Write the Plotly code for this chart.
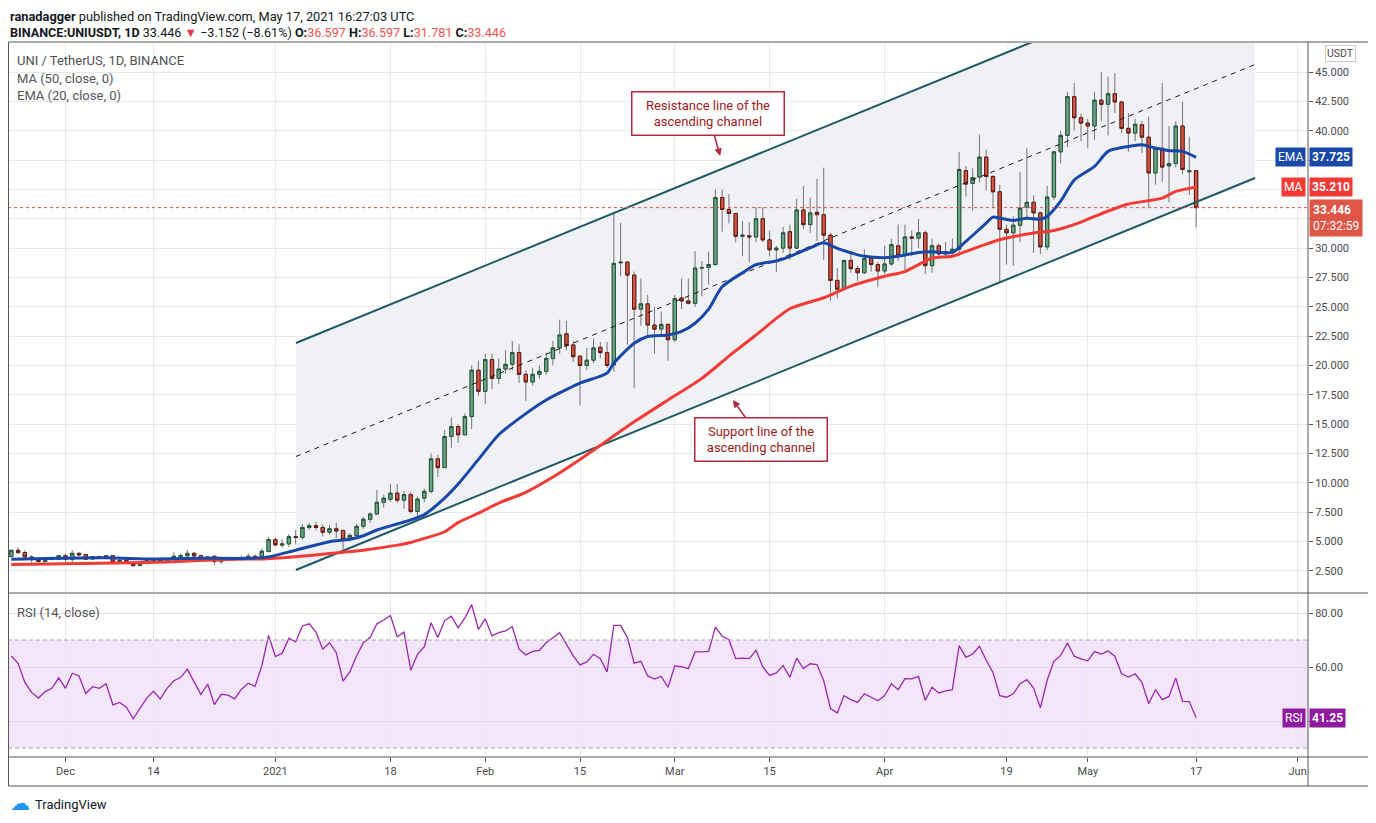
import pandas as pd
import plotly.graph_objects as go

# daily candles UNI/USDT, 2020-11-23 .. 2021-05-17
first_day = "2020-11-23"

opens = [
    3.72, 4.26, 4.06, 3.69, 3.47, 3.30, 3.47, 3.50, 3.80, 3.50,
    4.00, 3.90, 3.52, 3.72, 3.60, 3.80, 3.30, 3.41, 3.21, 2.96,
    3.15, 3.38, 3.47, 3.27, 3.55, 3.72, 3.78, 4.00, 3.80, 3.55,
    3.75, 3.30, 3.60, 3.58, 3.47, 3.63, 3.75, 3.72, 4.15, 5.17,
    4.70, 4.80, 5.42, 5.36, 6.20, 6.36, 6.20, 5.80, 6.10, 5.95,
    5.20, 5.53, 6.30, 6.90, 7.35, 8.35, 8.60, 9.13, 8.53, 9.00,
    7.56, 8.70, 9.28, 12.05, 11.30, 13.95, 14.80, 14.10, 15.65, 19.60,
    17.80, 20.50, 18.90, 19.70, 20.10, 21.10, 19.25, 18.60, 19.25, 19.50,
    20.60, 21.50, 22.70, 21.75, 20.80, 20.00, 20.45, 21.55, 21.10, 20.05,
    28.75, 28.80, 27.70, 24.80, 25.25, 23.45, 23.10, 23.50, 22.20, 25.75,
    25.50, 25.30, 28.30, 28.35, 28.60, 34.30, 33.30, 32.95, 31.00, 31.05,
    30.95, 32.50, 30.70, 29.85, 30.00, 31.40, 30.00, 33.25, 32.00, 33.05,
    32.85, 31.10, 27.25, 26.50, 28.95, 28.25, 27.90, 29.10, 28.60, 28.05,
    28.65, 30.20, 29.40, 30.95, 30.85, 31.30, 28.50, 30.20, 29.50, 29.70,
    29.90, 36.60, 35.50, 36.05, 37.75, 36.10, 34.80, 31.60, 31.30, 31.95,
    33.50, 33.90, 33.00, 30.10, 34.35, 38.20, 39.60, 42.90, 41.10, 40.65,
    40.40, 42.60, 42.25, 43.15, 42.45, 40.20, 39.80, 40.50, 39.45, 36.40,
    38.50, 37.00, 37.20, 40.40, 36.50, 36.597,
]
highs = [
    4.30, 4.49, 4.26, 3.84, 3.55, 3.58, 3.55, 3.85, 3.98, 4.26,
    4.10, 3.92, 3.80, 3.80, 3.88, 3.84, 3.45, 3.45, 3.25, 3.20,
    3.45, 3.50, 3.50, 3.60, 4.10, 4.00, 4.26, 4.10, 3.90, 3.75,
    3.80, 3.60, 3.70, 3.60, 3.80, 4.00, 3.90, 4.40, 5.40, 5.35,
    5.20, 5.65, 6.00, 6.50, 6.60, 6.70, 6.45, 6.40, 6.60, 6.00,
    5.70, 6.50, 7.10, 7.50, 9.40, 9.00, 9.90, 9.90, 9.30, 9.20,
    8.80, 9.50, 12.50, 12.40, 14.50, 15.57, 15.00, 15.90, 20.00, 20.40,
    21.00, 21.00, 20.60, 21.30, 22.10, 21.80, 19.60, 19.80, 20.00, 21.10,
    22.10, 23.90, 23.80, 22.10, 20.80, 21.50, 22.30, 22.00, 22.00, 32.90,
    32.15, 28.90, 28.00, 27.40, 26.00, 25.00, 24.60, 23.60, 26.00, 27.40,
    27.40, 29.74, 28.90, 29.70, 35.00, 35.00, 34.60, 33.00, 32.30, 32.20,
    33.50, 33.50, 31.50, 30.20, 31.80, 32.00, 34.20, 35.30, 34.30, 35.90,
    36.85, 31.30, 28.30, 29.00, 29.50, 28.50, 29.90, 29.20, 28.80, 30.20,
    30.80, 32.00, 32.00, 31.50, 32.50, 31.50, 30.80, 30.40, 30.50, 30.80,
    38.20, 37.00, 36.80, 39.66, 38.40, 36.20, 35.40, 32.00, 32.70, 36.50,
    38.50, 34.50, 33.10, 35.30, 38.20, 40.00, 43.30, 44.06, 41.45, 41.00,
    43.30, 45.00, 44.60, 44.90, 42.50, 41.50, 41.00, 40.80, 41.20, 38.60,
    44.06, 40.40, 40.80, 42.45, 39.50, 36.597,
]
lows = [
    3.65, 3.92, 3.55, 3.21, 3.20, 3.20, 3.42, 3.45, 3.27, 3.22,
    3.80, 3.45, 3.48, 3.55, 3.50, 3.25, 3.25, 3.10, 2.90, 2.90,
    3.05, 3.30, 3.20, 3.20, 3.50, 3.60, 3.70, 3.65, 3.45, 3.40,
    3.00, 3.10, 3.45, 3.40, 3.40, 3.60, 3.60, 3.60, 4.10, 4.60,
    4.50, 4.55, 4.75, 5.20, 6.00, 5.95, 5.45, 5.60, 5.30, 4.33,
    5.00, 5.20, 6.10, 6.60, 7.30, 7.90, 8.40, 8.30, 7.80, 7.40,
    6.90, 8.35, 9.10, 10.50, 11.30, 13.00, 13.40, 14.10, 14.60, 17.40,
    16.70, 18.00, 18.40, 19.30, 19.60, 18.50, 17.00, 18.30, 18.90, 19.20,
    20.00, 21.00, 21.30, 20.30, 16.60, 19.60, 20.20, 20.60, 19.80, 19.50,
    27.60, 21.76, 18.05, 23.40, 22.40, 21.00, 22.50, 20.40, 22.00, 24.80,
    25.20, 25.00, 25.90, 26.90, 28.50, 31.40, 32.10, 30.50, 29.30, 28.80,
    30.50, 30.50, 29.30, 27.95, 29.60, 29.00, 29.90, 31.60, 31.30, 30.60,
    29.00, 25.50, 25.70, 26.40, 27.90, 27.20, 27.80, 28.00, 26.70, 27.80,
    28.50, 28.90, 28.00, 29.30, 30.00, 27.80, 27.90, 29.20, 29.20, 29.40,
    29.30, 34.40, 33.20, 35.60, 34.90, 33.40, 27.07, 28.60, 28.50, 30.50,
    32.50, 29.60, 29.50, 29.80, 34.10, 37.20, 38.60, 40.00, 39.10, 38.50,
    39.20, 40.80, 39.60, 41.50, 39.80, 38.20, 39.10, 38.10, 33.50, 35.40,
    35.65, 33.90, 36.90, 36.30, 34.50, 31.781,
]
closes = [
    4.26, 4.06, 3.69, 3.47, 3.30, 3.50, 3.50, 3.80, 3.50, 4.00,
    3.86, 3.50, 3.72, 3.60, 3.80, 3.27, 3.41, 3.18, 2.95, 3.15,
    3.38, 3.45, 3.27, 3.55, 3.75, 3.80, 4.00, 3.78, 3.55, 3.69,
    3.30, 3.55, 3.50, 3.45, 3.63, 3.75, 3.67, 4.18, 5.17, 4.72,
    4.80, 5.42, 5.35, 6.20, 6.35, 6.20, 5.80, 6.10, 5.90, 5.20,
    5.53, 6.30, 6.90, 7.35, 8.35, 8.70, 9.13, 8.53, 9.00, 7.56,
    8.62, 9.28, 12.05, 11.30, 13.95, 14.80, 14.10, 15.65, 19.60, 17.80,
    20.50, 18.90, 19.70, 20.10, 21.10, 19.25, 18.60, 19.25, 19.50, 20.60,
    21.50, 22.60, 21.70, 20.75, 20.00, 20.45, 21.50, 21.10, 20.00, 28.70,
    28.80, 27.70, 24.80, 25.25, 23.45, 23.10, 23.50, 22.20, 25.70, 25.50,
    25.30, 28.30, 28.35, 28.60, 34.30, 33.30, 32.95, 31.00, 31.10, 30.95,
    32.50, 30.70, 29.85, 30.00, 31.30, 30.00, 33.25, 32.00, 33.00, 32.85,
    31.10, 27.25, 26.50, 28.95, 28.25, 27.90, 29.10, 28.60, 28.05, 28.65,
    30.30, 29.40, 30.95, 30.85, 31.30, 28.50, 30.20, 29.50, 29.70, 29.90,
    36.70, 35.45, 36.00, 37.75, 36.10, 34.80, 31.60, 31.30, 31.95, 33.40,
    33.90, 33.00, 30.10, 34.35, 38.20, 39.60, 42.90, 41.10, 40.65, 40.40,
    42.60, 42.25, 43.15, 42.45, 40.20, 39.80, 40.55, 39.45, 36.40, 38.50,
    36.90, 37.20, 40.40, 36.70, 36.597, 33.446,
]

# RSI(14) per day
rsi_vals = [
    64.1, 61.4, 54.3, 50.6, 48.5, 50.9, 52.1, 56.0, 52.1, 57.7,
    56.7, 50.2, 52.7, 52.1, 53.8, 46.0, 46.9, 45.1, 40.8, 44.5,
    48.5, 51.0, 48.2, 52.1, 54.9, 56.1, 59.2, 54.5, 49.8, 53.7,
    46.1, 49.9, 49.6, 48.2, 51.8, 54.0, 52.8, 60.4, 71.7, 63.9,
    65.1, 70.7, 69.3, 75.2, 76.0, 72.9, 66.6, 69.0, 65.3, 54.8,
    58.2, 64.1, 69.0, 70.9, 76.0, 77.4, 79.1, 71.2, 72.9, 58.8,
    64.7, 67.5, 76.4, 70.9, 77.2, 78.8, 74.5, 78.2, 83.1, 73.9,
    77.9, 71.5, 72.7, 73.4, 74.9, 66.6, 64.5, 65.8, 66.2, 69.0,
    70.9, 72.7, 68.4, 64.1, 60.8, 61.9, 64.7, 63.1, 58.2, 75.4,
    75.4, 70.9, 61.4, 62.1, 56.7, 55.5, 56.5, 52.5, 60.4, 60.1,
    59.4, 65.6, 65.6, 65.8, 74.8, 71.4, 70.1, 63.1, 63.3, 63.1,
    66.2, 60.0, 56.9, 57.8, 60.5, 56.2, 63.3, 59.4, 61.2, 60.9,
    54.9, 44.6, 43.0, 49.4, 47.9, 46.9, 50.1, 48.9, 47.5, 49.4,
    53.8, 51.6, 55.7, 55.6, 56.5, 47.7, 52.5, 50.4, 51.2, 51.6,
    67.9, 63.6, 64.8, 67.7, 62.5, 58.0, 49.4, 48.8, 50.1, 53.8,
    55.3, 52.2, 44.9, 55.1, 62.1, 64.3, 68.9, 64.0, 63.0, 62.3,
    65.7, 64.8, 65.9, 64.0, 57.5, 56.3, 57.5, 54.3, 46.4, 51.6,
    47.9, 49.1, 55.9, 47.3, 47.2, 41.25,
]

# EMA 20 / MA 50 read at sample days (day number from first_day)
ema_idx = [0, 7, 14, 21, 28, 35, 38, 42, 47, 50, 52, 54, 57, 59, 61, 64, 66, 69,
           72, 76, 79, 82, 84, 88, 89, 92, 94, 97, 99, 101, 103, 105, 108, 110,
           113, 115, 118, 120, 122, 124, 126, 129, 131, 134, 136, 139, 141, 144,
           145, 146, 148, 150, 152, 153, 155, 157, 160, 162, 165, 167, 169, 171,
           173, 175]
ema_vals = [3.50, 3.58, 3.62, 3.52, 3.58, 3.58, 3.70, 4.27, 4.99, 5.20, 5.50, 5.99,
            6.50, 6.85, 7.30, 8.70, 9.90, 12.0, 14.1, 15.9, 17.06, 17.95, 18.5,
            19.35, 20.2, 21.9, 22.47, 22.6, 22.9, 23.6, 24.8, 26.7, 27.9, 28.6,
            28.9, 29.3, 30.03, 30.45, 29.97, 29.6, 29.3, 29.18, 29.3, 29.63, 29.69,
            29.63, 30.57, 32.13, 32.64, 32.55, 32.36, 32.55, 32.47, 32.7, 34.0,
            35.8, 36.96, 38.24, 38.66, 38.8, 38.52, 38.3, 38.24, 37.725]
ma_idx = [0, 13, 23, 33, 37, 42, 47, 52, 57, 59, 61, 64, 66, 69, 72, 76, 80, 84,
          88, 92, 97, 102, 106, 110, 115, 120, 124, 129, 132, 136, 139, 141, 146,
          151, 154, 158, 160, 165, 170, 172, 175]
ma_vals = [3.05, 3.15, 3.27, 3.50, 3.52, 3.72, 3.98, 4.27, 4.70, 4.93, 5.27, 5.84,
           6.62, 7.42, 8.28, 9.2, 10.5, 12.0, 13.6, 15.2, 17.06, 18.9, 20.8, 22.6,
           24.83, 25.77, 26.76, 27.6, 28.0, 29.15, 29.3, 29.72, 30.71, 31.28, 31.5,
           32.22, 32.7, 33.75, 34.26, 34.83, 35.21]

last_close = 33.446
ema_last = 37.725
ma_last = 35.21
rsi_last = 41.25

price_ticks = [2.5, 5.0, 7.5, 10.0, 12.5, 15.0, 17.5, 20.0, 22.5, 25.0, 27.5,
               30.0, 32.5, 35.0, 37.5, 40.0, 42.5, 45.0]
hidden_ticks = [32.5, 35.0, 37.5]   # covered by the value tags on the scale
date_ticks = ["2020-12-01", "2020-12-14", "2021-01-01", "2021-01-18", "2021-02-01",
              "2021-02-15", "2021-03-01", "2021-03-15", "2021-04-01", "2021-04-19",
              "2021-05-01", "2021-05-17", "2021-06-01"]
date_labels = ["Dec", "14", "2021", "18", "Feb", "15", "Mar", "15", "Apr", "19",
               "May", "17", "Jun"]

# the drawn ascending channel (start / end anchor of each line)
chan_x = ["2021-01-04 01:00", "2021-05-25 17:00"]
chan_top = [21.92, 55.31]
chan_mid = [12.25, 45.64]
chan_bot = [2.58, 35.97]

dates = pd.date_range(first_day, periods=len(closes), freq="D")
body_hi = [max(o, c) for o, c in zip(opens, closes)]
body_lo = [min(o, c) for o, c in zip(opens, closes)]

UP, UP_EDGE = "#6ba583", "#225437"
DN, DN_EDGE = "#d75442", "#5b1a13"
WICK = "#737375"
FONT = "Roboto"
TXT = "#4a4a4a"
FRAME = "#555"


# the page puts the figure 8px in from the corner; plot area spans
# x 8..1308 and y 43..757 of the screenshot
def px(x):
    return (x - 8) / 1300


def py(y):
    return (757 - y) / 714


fig = go.Figure()

# channel lines (drawn objects sit above the candles)
fig.add_trace(go.Scatter(x=chan_x, y=chan_mid, mode="lines",
                         line=dict(color="#1b1b1b", width=1, dash="5px,5px")))
fig.add_trace(go.Scatter(x=chan_x, y=chan_top, mode="lines",
                         line=dict(color="#1e5a66", width=2)))
fig.add_trace(go.Scatter(x=chan_x, y=chan_bot, mode="lines",
                         line=dict(color="#1e5a66", width=2)))

# candles: wicks in gray, then bodies with dark borders
fig.add_trace(go.Candlestick(x=dates, open=opens, high=highs, low=lows, close=closes,
                             increasing=dict(fillcolor=UP, line=dict(color=WICK, width=1)),
                             decreasing=dict(fillcolor=DN, line=dict(color=WICK, width=1)),
                             hoverinfo="skip"))
fig.add_trace(go.Candlestick(x=dates, open=opens, high=body_hi, low=body_lo, close=closes,
                             increasing=dict(fillcolor=UP, line=dict(color=UP_EDGE, width=1)),
                             decreasing=dict(fillcolor=DN, line=dict(color=DN_EDGE, width=1)),
                             hoverinfo="skip"))

# MA / EMA
fig.add_trace(go.Scatter(x=dates[ma_idx], y=ma_vals, mode="lines",
                         line=dict(color="#f23b35", width=3, shape="spline", smoothing=0.7)))
fig.add_trace(go.Scatter(x=dates[ema_idx], y=ema_vals, mode="lines",
                         line=dict(color="#1848a8", width=3, shape="spline", smoothing=0.7)))

# RSI
fig.add_trace(go.Scatter(x=dates, y=rsi_vals, mode="lines", xaxis="x2", yaxis="y2",
                         line=dict(color="#9c27b0", width=1.3)))


def d(s):  # date inside a shape path
    return s.replace(" ", "_")


chan_path = "M%s,%s L%s,%s L%s,%s L%s,%s Z" % (
    d(chan_x[0]), chan_top[0], d(chan_x[1]), chan_top[1],
    d(chan_x[1]), chan_bot[1], d(chan_x[0]), chan_bot[0])

shapes = [
    dict(type="path", xref="x", yref="y", path=chan_path, fillcolor="#f0f1f4",
         line=dict(width=0), layer="between"),
    dict(type="rect", xref="paper", yref="y2", x0=0, x1=1, y0=30, y1=70,
         fillcolor="#f3e6fb", line=dict(width=0), layer="between"),
    dict(type="line", xref="paper", yref="y2", x0=0, x1=1, y0=70, y1=70,
         line=dict(color="#a8a8a8", width=1, dash="4px,3px")),
    dict(type="line", xref="paper", yref="y2", x0=0, x1=1, y0=30, y1=30,
         line=dict(color="#a8a8a8", width=1, dash="4px,3px")),
    dict(type="line", xref="paper", yref="y", x0=0, x1=1, y0=last_close, y1=last_close,
         line=dict(color="#e0504a", width=1, dash="dot")),
    # frame
    dict(type="rect", xref="paper", yref="paper", x0=px(8.5), x1=px(1370), y0=py(786), y1=py(42),
         line=dict(color=FRAME, width=1)),
    dict(type="line", xref="paper", yref="paper", x0=1, x1=1, y0=py(786), y1=py(42),
         line=dict(color=FRAME, width=1)),
    dict(type="line", xref="paper", yref="paper", x0=px(8.5), x1=px(1370), y0=py(593), y1=py(593),
         line=dict(color=FRAME, width=1)),
    dict(type="line", xref="paper", yref="paper", x0=px(8.5), x1=px(1370), y0=0, y1=0,
         line=dict(color=FRAME, width=1)),
]

red_txt = "#f05350"
header2 = ("<b>BINANCE:UNIUSDT, 1D</b> 33.446 <span style='color:#f23645'>▼</span> "
           "−3.152 (−8.61%) "
           f"<b>O:</b><span style='color:{red_txt}'>36.597</span> "
           f"<b>H:</b><span style='color:{red_txt}'>36.597</span> "
           f"<b>L:</b><span style='color:{red_txt}'>31.781</span> "
           f"<b>C:</b><span style='color:{red_txt}'>33.446</span>")

annotations = [
    dict(x=px(8), y=py(17), text="<b>ranadagger</b> published on TradingView.com, May 17, 2021 16:27:03 UTC",
         font=dict(size=12.8, color="#131722")),
    dict(x=px(8), y=py(32), text=header2, font=dict(size=12.6, color="#131722")),
    dict(x=px(15), y=py(60), text="UNI / TetherUS, 1D, BINANCE", font=dict(size=13, color="#4f4f4f")),
    dict(x=px(15), y=py(78), text="MA (50, close, 0)", font=dict(size=13, color="#555")),
    dict(x=px(15), y=py(96), text="EMA (20, close, 0)", font=dict(size=13, color="#555")),
    dict(x=px(15), y=py(612), text="RSI (14, close)", font=dict(size=13, color="#555")),
    dict(x=px(33), y=py(804), text="TradingView", font=dict(size=13, color="#131722")),
    dict(x=px(8), y=py(803), text="☁", font=dict(size=20, color="#2196f3", family="DejaVu Sans")),
]
for a in annotations:
    a.update(xref="paper", yref="paper", xanchor="left", yanchor="middle", showarrow=False)
    a["font"].setdefault("family", FONT)


# right-hand value tags
def tag(label, value, y, yref, color, lx=1306):
    out = []
    if label:
        out.append(dict(x=px(lx), y=y, xref="paper", yref=yref, xanchor="right", yanchor="middle",
                        text=label, showarrow=False, bgcolor=color, borderpad=2,
                        font=dict(family=FONT, size=12, color="white")))
    out.append(dict(x=px(1309), y=y, xref="paper", yref=yref, xanchor="left", yanchor="middle",
                    text="<b>%s</b>" % value, showarrow=False, bgcolor=color, borderpad=2,
                    font=dict(family=FONT, size=12, color="white")))
    return out


annotations += tag("EMA", "%.3f" % ema_last, ema_last, "y", "#1848a8")
annotations += tag("MA", "%.3f" % ma_last, ma_last, "y", "#f23b35")
annotations += tag("RSI", "%.2f" % rsi_last, rsi_last, "y2", "#8f1ca0")
annotations.append(dict(x=px(1309), y=last_close, xref="paper", yref="y", xanchor="left",
                        yanchor="top", yshift=9, showarrow=False, bgcolor="#df5546", borderpad=3,
                        text="<b>%.3f</b><br>07:32:59" % last_close, align="left",
                        font=dict(family=FONT, size=12, color="white")))
annotations.append(dict(x=px(1340), y=py(54), xref="paper", yref="paper", showarrow=False,
                        xanchor="center", yanchor="middle",
                        text="USDT", bordercolor="#c8c8c8", borderwidth=1, borderpad=1,
                        bgcolor="white", font=dict(family=FONT, size=10.5, color=TXT)))

# callouts
call = dict(showarrow=True, arrowhead=2, arrowsize=1, arrowwidth=1.5, arrowcolor="#b2283c",
            bgcolor="white", bordercolor="#b2283c", borderwidth=1.5, borderpad=5,
            font=dict(family=FONT, size=13, color="#9c1c1c"), xref="x", yref="y")
annotations.append(dict(call, x="2021-03-07 17:00", y=37.85, ax=-12, ay=-42, width=141,
                        text="Resistance line of the<br>ascending channel"))
annotations.append(dict(call, x="2021-03-09 14:00", y=17.06, ax=28, ay=39, width=121,
                        text="Support line of the<br>ascending channel"))

x_range = ["2020-11-22 12:15", "2021-06-02 12:45"]
grid = "#e9e9ea"

fig.update_layout(
    width=1360, height=807,
    margin=dict(l=0, r=60, t=35, b=58),
    paper_bgcolor="white", plot_bgcolor="white",
    showlegend=False,
    font=dict(family=FONT, color=TXT),
    xaxis=dict(type="date", range=x_range, tickvals=date_ticks, showticklabels=False,
               showgrid=True, gridcolor=grid, zeroline=False, rangeslider=dict(visible=False),
               anchor="y"),
    xaxis2=dict(type="date", range=x_range, matches="x", tickvals=date_ticks, ticktext=date_labels,
                showgrid=True, gridcolor=grid, zeroline=False, anchor="y2",
                ticks="outside", ticklen=4, tickcolor=FRAME,
                tickfont=dict(size=11, color=TXT)),
    yaxis=dict(domain=[py(592), 1], range=[0.707, 47.47], side="right", tickvals=price_ticks,
               ticktext=["" if t in hidden_ticks else "%.3f" % t for t in price_ticks],
               ticks="outside", ticklen=4, tickcolor=FRAME,
               showgrid=True, gridcolor=grid, zeroline=False, tickfont=dict(size=11, color=TXT),
               anchor="x"),
    yaxis2=dict(domain=[0, py(594)], range=[26.67, 87.04], side="right", tickvals=[40, 60, 80],
                ticktext=["", "60.00", "80.00"], ticks="outside", ticklen=4, tickcolor=FRAME,
                showgrid=True, gridcolor="#e3dbe8", zeroline=False,
                tickfont=dict(size=11, color=TXT), anchor="x2"),
    shapes=shapes,
    annotations=annotations,
)

fig.write_html("out.html")
